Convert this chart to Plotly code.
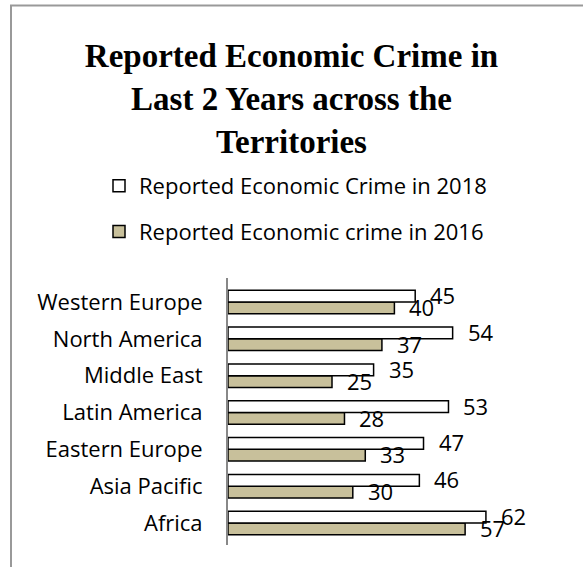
import plotly.graph_objects as go

categories = ["Africa", "Asia Pacific", "Eastern Europe", "Latin America",
              "Middle East", "North America", "Western Europe"]
crime_2018 = [62, 46, 47, 53, 35, 54, 45]
crime_2016 = [57, 30, 33, 28, 25, 37, 40]
name_2018 = "Reported Economic Crime in 2018"
name_2016 = "Reported Economic crime in 2016"
title_text = "Reported Economic Crime in<br>Last 2 Years across the<br>Territories"

W, H = 583, 567
ML, MR, MT, MB = 228, 43, 278, 22
plot_w = W - ML - MR
plot_h = H - MT - MB

LABEL_FONT = dict(family="Open Sans", size=22, color="#000000")


def px_to_paper_x(px):
    return (px - ML) / plot_w


def px_to_paper_y(py):
    return (H - MB - py) / plot_h


fig = go.Figure()
fig.add_trace(go.Bar(
    y=categories, x=crime_2016, orientation="h", name=name_2016,
    marker=dict(color="#C8C09B", line=dict(color="#000000", width=1.5)),
    legendgroup="b", legendrank=2,
))
fig.add_trace(go.Bar(
    y=categories, x=crime_2018, orientation="h", name=name_2018,
    marker=dict(color="#FFFFFF", line=dict(color="#000000", width=1.5)),
    legendgroup="a", legendrank=1,
))

annotations = []
for cat, v in zip(categories, crime_2018):
    annotations.append(dict(x=v, y=cat, xref="x", yref="y", text=str(v),
                            showarrow=False, xanchor="left", yanchor="middle",
                            xshift=13, yshift=7, font=LABEL_FONT))
for cat, v in zip(categories, crime_2016):
    annotations.append(dict(x=v, y=cat, xref="x", yref="y", text=str(v),
                            showarrow=False, xanchor="left", yanchor="middle",
                            xshift=13, yshift=-5, font=LABEL_FONT))

# outer frame (left and top edges visible)
fig.add_shape(type="line", xref="paper", yref="paper",
              x0=px_to_paper_x(11), x1=px_to_paper_x(11),
              y0=px_to_paper_y(H), y1=px_to_paper_y(5.5),
              line=dict(color="#999999", width=2))
fig.add_shape(type="line", xref="paper", yref="paper",
              x0=px_to_paper_x(10), x1=px_to_paper_x(W),
              y0=px_to_paper_y(5.5), y1=px_to_paper_y(5.5),
              line=dict(color="#999999", width=2))

fig.update_layout(
    template="none",
    width=W, height=H,
    margin=dict(l=ML, r=MR, t=MT, b=MB, pad=0, autoexpand=False),
    paper_bgcolor="#FFFFFF", plot_bgcolor="#FFFFFF",
    barmode="group", bargap=0.36, bargroupgap=0,
    title=dict(text=title_text, x=0.5, xanchor="center",
               y=1 - 67 / H, yanchor="top", yref="container",
               font=dict(family="Liberation Serif", size=33, color="#000000",
                         weight="bold")),
    showlegend=True,
    legend=dict(orientation="v", xref="paper", yref="paper",
                x=px_to_paper_x(W / 2 + 4), xanchor="center",
                y=px_to_paper_y(165), yanchor="top",
                traceorder="grouped", tracegroupgap=14,
                font=dict(family="Open Sans", size=22, color="#000000"),
                bgcolor="rgba(0,0,0,0)", borderwidth=0),
    annotations=annotations,
    xaxis=dict(range=[0, 75], visible=False, fixedrange=True),
    yaxis=dict(type="category", categoryorder="array", categoryarray=categories,
               showline=True, linecolor="#888888", linewidth=2,
               showgrid=False, zeroline=False, automargin=False,
               ticks="outside", ticklen=19, tickcolor="rgba(0,0,0,0)",
               tickfont=LABEL_FONT, fixedrange=True),
)

fig.write_html("out.html")
